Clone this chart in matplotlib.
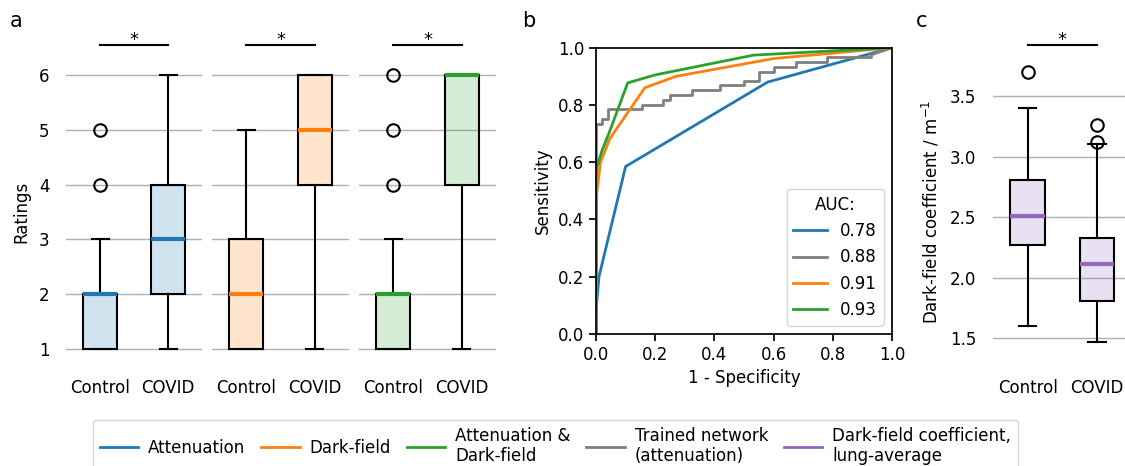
import numpy as np
import matplotlib
matplotlib.use("Agg")
import matplotlib.pyplot as plt
from matplotlib.lines import Line2D

plt.rcParams['font.family'] = ['DejaVu Sans']
plt.rcParams['font.size'] = 12

# ---- data ----
groups = ['Control', 'COVID']
rating_methods = ['Attenuation', 'Dark-field', 'Both']
# (whislo, q1, med, q3, whishi, fliers) per method, per group
rating_stats = {
    'Attenuation': [(1, 1, 2, 2, 3, [4, 5]), (1, 2, 3, 4, 6, [])],
    'Dark-field': [(1, 1, 2, 3, 5, []), (1, 4, 5, 6, 6, [])],
    'Both': [(1, 1, 2, 2, 3, [4, 5, 6]), (1, 4, 6, 6, 6, [])],
}
rating_colors = ['tab:blue', 'tab:orange', 'tab:green']

dfc_stats = [(1.60, 2.27, 2.51, 2.81, 3.40, [3.70]),
             (1.47, 1.81, 2.11, 2.33, 3.10, [3.12, 3.26])]

roc_att_fpr = [0, 0, 0.01, 0.10, 0.58, 1.0]
roc_att_tpr = [0, 0.08, 0.20, 0.585, 0.88, 1.0]
roc_df_fpr = [0, 0, 0.015, 0.047, 0.165, 0.27, 0.60, 1.0]
roc_df_tpr = [0, 0.47, 0.60, 0.683, 0.86, 0.90, 0.962, 1.0]
roc_both_fpr = [0, 0, 0.02, 0.047, 0.107, 0.20, 0.532, 1.0]
roc_both_tpr = [0, 0.573, 0.64, 0.71, 0.877, 0.905, 0.974, 1.0]
roc_net_fpr = [0, 0, 0.02, 0.04, 0.155, 0.225, 0.25, 0.325, 0.42, 0.50,
               0.55, 0.60, 0.675, 0.78, 0.93]
roc_net_tpr = [0, 0.733, 0.75, 0.785, 0.80, 0.817, 0.835, 0.852, 0.868,
               0.885, 0.916, 0.934, 0.951, 0.967, 0.975]
auc_labels = ['0.78', '0.88', '0.91', '0.93']

W, H = 1125, 466
fig = plt.figure(figsize=(W / 100, H / 100), dpi=100)


def px_axes(l, t, r, b):
    return fig.add_axes([l / W, 1 - b / H, (r - l) / W, (b - t) / H])


def stats_list(raw):
    out = []
    for (lo, q1, med, q3, hi, fl), lab in zip(raw, groups):
        out.append(dict(whislo=lo, q1=q1, med=med, q3=q3, whishi=hi,
                        fliers=fl, label=lab))
    return out


def boxes(ax, raw, color):
    ax.bxp(stats_list(raw), widths=0.5, patch_artist=True,
           boxprops=dict(facecolor=matplotlib.colors.to_rgba(color, 0.2),
                         edgecolor='black', linewidth=1.5),
           medianprops=dict(color=color, linewidth=3, solid_capstyle='butt'),
           whiskerprops=dict(linewidth=1.5), capprops=dict(linewidth=1.5),
           flierprops=dict(marker='o', markersize=9, markerfacecolor='none',
                           markeredgecolor='black', markeredgewidth=1.5))
    for s in ax.spines.values():
        s.set_visible(False)
    ax.tick_params(length=0)
    ax.tick_params(axis='x', pad=2)
    ax.yaxis.grid(True, color='#b0b0b0', linewidth=1)
    ax.set_axisbelow(True)
    ax.set_xlim(0.5, 2.5)


def signif(ax, y, dy):
    ax.plot([1, 2], [y, y], color='black', lw=1.5, clip_on=False)
    ax.text(1.5, y + dy, '*', ha='center', va='bottom', fontsize=13,
            clip_on=False)


# ---- panel a ----
a_lefts = [(66, 202), (212, 349), (359, 496)]
for i, (m, (l, r)) in enumerate(zip(rating_methods, a_lefts)):
    ax = px_axes(l, 47.6, r, 376.4)
    boxes(ax, rating_stats[m], rating_colors[i])
    ax.set_ylim(0.5, 6.5)
    ax.set_yticks([1, 2, 3, 4, 5, 6])
    if i == 0:
        ax.set_ylabel('Ratings', labelpad=6)
        ax.tick_params(axis='y', pad=12)
    else:
        ax.set_yticklabels([])
    signif(ax, 6.55, -0.07)

# ---- panel b ----
axb = px_axes(596, 47.7, 892, 334)
axb.plot(roc_att_fpr, roc_att_tpr, color='tab:blue', lw=2, label=auc_labels[0])
axb.plot(roc_net_fpr, roc_net_tpr, color='tab:gray', lw=2,
         drawstyle='steps-post', label=auc_labels[1])
axb.plot([roc_net_fpr[-1], 1.0], [roc_net_tpr[-1], 1.0], color='tab:gray', lw=2)
axb.plot(roc_df_fpr, roc_df_tpr, color='tab:orange', lw=2, label=auc_labels[2])
axb.plot(roc_both_fpr, roc_both_tpr, color='tab:green', lw=2, label=auc_labels[3])
axb.set_xlim(0, 1)
axb.set_ylim(0, 1)
axb.set_xlabel('1 - Specificity')
axb.set_ylabel('Sensitivity')
for s in axb.spines.values():
    s.set_linewidth(1.25)
axb.tick_params(width=1.25, length=5)
axb.legend(title='AUC:', loc='lower right', title_fontsize=12)

# ---- panel c ----
axc = px_axes(993, 47.6, 1131.6, 376.4)
boxes(axc, dfc_stats, 'tab:purple')
axc.set_ylim(1.183, 3.9)
axc.set_yticks([1.5, 2.0, 2.5, 3.0, 3.5])
axc.set_ylabel('Dark-field coefficient / m$^{-1}$', labelpad=6)
axc.tick_params(axis='y', pad=12)
signif(axc, 3.92, -0.03)

# ---- panel letters ----
fig.text(10 / W, 1 - 27 / H, 'a', fontsize=15)
fig.text(522 / W, 1 - 27 / H, 'b', fontsize=15)
fig.text(916 / W, 1 - 27 / H, 'c', fontsize=15)

# ---- bottom legend ----
handles = [Line2D([], [], color='tab:blue', lw=2),
           Line2D([], [], color='tab:orange', lw=2),
           Line2D([], [], color='tab:green', lw=2),
           Line2D([], [], color='tab:gray', lw=2),
           Line2D([], [], color='tab:purple', lw=2)]
labels = ['Attenuation', 'Dark-field', 'Attenuation &\nDark-field',
          'Trained network\n(attenuation)', 'Dark-field coefficient,\nlung-average']
fig.legend(handles, labels, ncol=5, loc='upper center',
           bbox_to_anchor=(555.5 / W, 1 - 420 / H), borderaxespad=0,
           handlelength=2.3, columnspacing=0.95, handletextpad=0.6,
           labelspacing=0.2)

fig.savefig('out.png', dpi=100)
